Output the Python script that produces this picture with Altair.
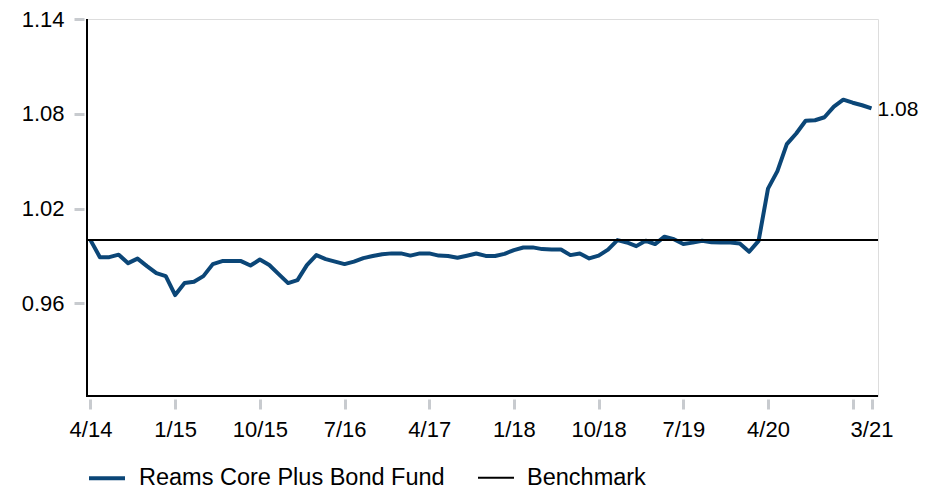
import altair as alt
import pandas as pd

# ---------------- data ----------------
fund_name = "Reams Core Plus Bond Fund"
bench_name = "Benchmark"
start_year, start_month = 2014, 4
fund_values = [
    1.0000, 0.9892, 0.9892, 0.9908, 0.9854, 0.9883, 0.9835, 0.9791, 0.9772, 0.9652,
    0.9728, 0.9736, 0.9772, 0.9848, 0.9867, 0.9867, 0.9867, 0.9839, 0.9877, 0.9842,
    0.9785, 0.9728, 0.9747, 0.9842, 0.9905, 0.9880, 0.9864, 0.9848, 0.9864, 0.9886,
    0.9899, 0.9911, 0.9916, 0.9916, 0.9902, 0.9916, 0.9916, 0.9902, 0.9899, 0.9888,
    0.9901, 0.9915, 0.9900, 0.9899, 0.9913, 0.9937, 0.9953, 0.9954, 0.9943, 0.9941,
    0.9941, 0.9905, 0.9915, 0.9884, 0.9902, 0.9940, 1.0000, 0.9985, 0.9962, 0.9996,
    0.9975, 1.0022, 1.0006, 0.9975, 0.9984, 0.9996, 0.9987, 0.9985, 0.9985, 0.9978,
    0.9926, 0.9995, 1.0326, 1.0437, 1.0608, 1.0675, 1.0756, 1.0759, 1.0778, 1.0845,
    1.0889, 1.0870, 1.0854, 1.0834,
]
bench_value = 1.0
tick_months = ["4/14", "1/15", "10/15", "7/16", "4/17", "1/18", "10/18", "7/19", "4/20", "1/21", "3/21"]
hidden_tick_labels = ["1/21"]
y_ticks = [0.96, 1.02, 1.08, 1.14]
end_label = "1.08"

# ---------------- tables ----------------
months = []
for i in range(len(fund_values)):
    k = start_month - 1 + i
    months.append(f"{k % 12 + 1}/{(start_year + k // 12) % 100:02d}")

df = pd.DataFrame({"idx": list(range(len(fund_values))), "month": months,
                   "value": fund_values, "series": fund_name})
bench_df = pd.DataFrame({"value": [bench_value], "series": [bench_name]})
end_df = df.tail(1).assign(label=end_label)
frame_df = pd.DataFrame({"a": [0]})

tick_idx = [months.index(t) for t in tick_months]
label_expr = ""
for t, ix in zip(tick_months, tick_idx):
    shown = "" if t in hidden_tick_labels else t
    label_expr += f"datum.value == {ix} ? '{shown}' : "
label_expr += "''"

# ---------------- style ----------------
W, H = 791, 377
BLUE = "#0b4677"
TICK = "#c8cbcf"
FONT = "Liberation Sans"

xscale = alt.Scale(domain=[-0.37, 83.69], nice=False, zero=False)
yscale = alt.Scale(domain=[0.9013, 1.14], nice=False, zero=False)

xaxis = alt.Axis(values=tick_idx, labelExpr=label_expr, offset=3, domain=False,
                 tickSize=10, tickWidth=3, tickColor=TICK, labelFontSize=22,
                 labelFont=FONT, labelColor="#000000", labelPadding=10,
                 title=None, grid=False, labelOverlap=False)
yaxis = alt.Axis(values=y_ticks, format=".2f", offset=3, domain=False,
                 tickSize=10, tickWidth=3, tickColor=TICK, labelFontSize=22,
                 labelFont=FONT, labelColor="#000000", labelPadding=10,
                 title=None, grid=False)

legend = alt.Legend(title=None, orient="none", legendX=0, legendY=439,
                    direction="horizontal", symbolType="stroke", symbolSize=1296,
                    labelFontSize=23.5, labelFont=FONT, labelColor="#000000",
                    labelOffset=12, columnPadding=29, labelLimit=600, padding=0)

color = alt.Color("series:N", scale=alt.Scale(domain=[fund_name, bench_name],
                                                range=[BLUE, "#000000"]), legend=legend)
swidth = alt.StrokeWidth("series:N", scale=alt.Scale(domain=[fund_name, bench_name],
                                                       range=[4, 2]), legend=legend)

line = alt.Chart(df).mark_line(strokeJoin="round").encode(
    x=alt.X("idx:Q", scale=xscale, axis=xaxis),
    y=alt.Y("value:Q", scale=yscale, axis=yaxis),
    color=color,
    strokeWidth=swidth,
)

bench = alt.Chart(bench_df).mark_rule().encode(
    y=alt.Y("value:Q", scale=yscale),
    x=alt.value(0), x2=alt.value(W),
    color=color,
    strokeWidth=swidth,
)

left_frame = alt.Chart(frame_df).mark_rule(color="#000000", strokeWidth=2).encode(
    x=alt.value(0), y=alt.value(0), y2=alt.value(H))
bottom_frame = alt.Chart(frame_df).mark_rule(color="#000000", strokeWidth=2).encode(
    x=alt.value(-1), x2=alt.value(W), y=alt.value(H))

end_text = alt.Chart(end_df).mark_text(align="left", baseline="middle", dx=6, dy=2,
                                       fontSize=21, font=FONT, color="#000000").encode(
    x=alt.X("idx:Q", scale=xscale),
    y=alt.Y("value:Q", scale=yscale),
    text="label:N",
)

chart = alt.layer(line, bench, left_frame, bottom_frame, end_text).properties(
    width=W, height=H,
    autosize=alt.AutoSizeParams(type="none"),
    padding={"left": 79, "top": 11, "right": 55, "bottom": 95},
).configure_view(stroke=None).configure(background="#ffffff")

chart.save("out.html", embed_options={"renderer": "svg", "actions": False})
